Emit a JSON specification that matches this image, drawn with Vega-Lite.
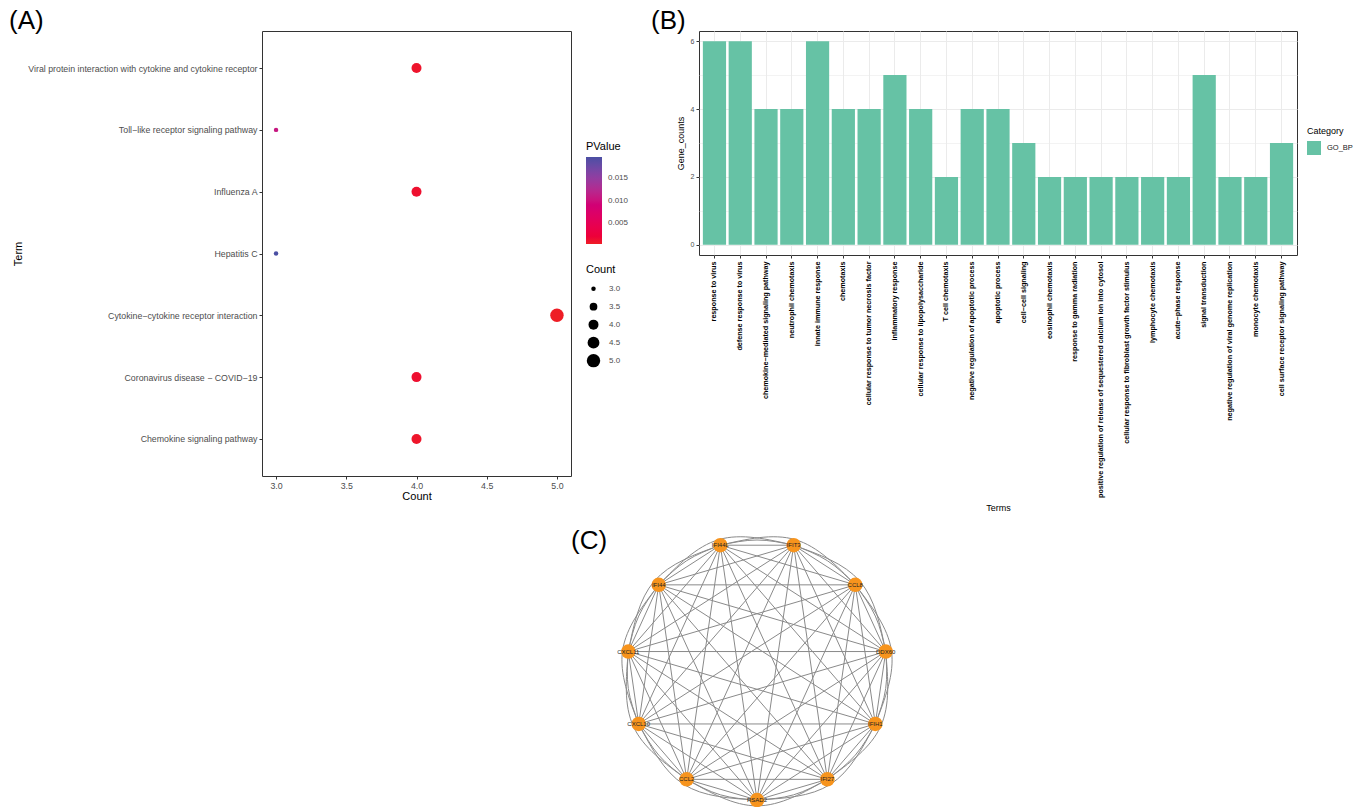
{
  "$schema": "https://vega.github.io/schema/vega-lite/v6.json",
  "autosize": {"type": "pad"},
  "padding": {"left": 8, "top": 7, "right": 0, "bottom": 0},
  "background": "white",
  "config": {
    "font": "Liberation Sans",
    "view": {"stroke": null},
    "axis": {"domain": false, "tickColor": "#333333", "tickSize": 3, "labelColor": "#4d4d4d", "titleColor": "black", "titleFontWeight": "normal", "grid": false},
    "legend": {"titleFontWeight": "normal", "titleColor": "black", "labelColor": "#4d4d4d"},
    "title": {"fontWeight": "normal", "color": "black", "fontSize": 26, "anchor": "start", "frame": "group", "baseline": "bottom"}
  },
  "datasets": {
    "kegg": [
      {"Term": "Viral protein interaction with cytokine and cytokine receptor", "Count": 4, "PValue": 0.0009},
      {"Term": "Toll−like receptor signaling pathway", "Count": 3, "PValue": 0.0106},
      {"Term": "Influenza A", "Count": 4, "PValue": 0.0011},
      {"Term": "Hepatitis C", "Count": 3, "PValue": 0.0197},
      {"Term": "Cytokine−cytokine receptor interaction", "Count": 5, "PValue": 0.0003},
      {"Term": "Coronavirus disease − COVID−19", "Count": 4, "PValue": 0.0012},
      {"Term": "Chemokine signaling pathway", "Count": 4, "PValue": 0.0008}
    ],
    "go": [
      {"Term": "response to virus", "Gene_counts": 6, "Category": "GO_BP"},
      {"Term": "defense response to virus", "Gene_counts": 6, "Category": "GO_BP"},
      {"Term": "chemokine−mediated signaling pathway", "Gene_counts": 4, "Category": "GO_BP"},
      {"Term": "neutrophil chemotaxis", "Gene_counts": 4, "Category": "GO_BP"},
      {"Term": "innate immune response", "Gene_counts": 6, "Category": "GO_BP"},
      {"Term": "chemotaxis", "Gene_counts": 4, "Category": "GO_BP"},
      {"Term": "cellular response to tumor necrosis factor", "Gene_counts": 4, "Category": "GO_BP"},
      {"Term": "inflammatory response", "Gene_counts": 5, "Category": "GO_BP"},
      {"Term": "cellular response to lipopolysaccharide", "Gene_counts": 4, "Category": "GO_BP"},
      {"Term": "T cell chemotaxis", "Gene_counts": 2, "Category": "GO_BP"},
      {"Term": "negative regulation of apoptotic process", "Gene_counts": 4, "Category": "GO_BP"},
      {"Term": "apoptotic process", "Gene_counts": 4, "Category": "GO_BP"},
      {"Term": "cell−cell signaling", "Gene_counts": 3, "Category": "GO_BP"},
      {"Term": "eosinophil chemotaxis", "Gene_counts": 2, "Category": "GO_BP"},
      {"Term": "response to gamma radiation", "Gene_counts": 2, "Category": "GO_BP"},
      {"Term": "positive regulation of release of sequestered calcium ion into cytosol", "Gene_counts": 2, "Category": "GO_BP"},
      {"Term": "cellular response to fibroblast growth factor stimulus", "Gene_counts": 2, "Category": "GO_BP"},
      {"Term": "lymphocyte chemotaxis", "Gene_counts": 2, "Category": "GO_BP"},
      {"Term": "acute−phase response", "Gene_counts": 2, "Category": "GO_BP"},
      {"Term": "signal transduction", "Gene_counts": 5, "Category": "GO_BP"},
      {"Term": "negative regulation of viral genome replication", "Gene_counts": 2, "Category": "GO_BP"},
      {"Term": "monocyte chemotaxis", "Gene_counts": 2, "Category": "GO_BP"},
      {"Term": "cell surface receptor signaling pathway", "Gene_counts": 3, "Category": "GO_BP"}
    ],
    "nodes": [
      {"gene": "RSAD2", "x": 0, "y": -1},
      {"gene": "IFI27", "x": 0.541, "y": -0.841},
      {"gene": "IFIH1", "x": 0.91, "y": -0.415},
      {"gene": "DDX60", "x": 0.99, "y": 0.142},
      {"gene": "CCL8", "x": 0.756, "y": 0.655},
      {"gene": "IFIT3", "x": 0.282, "y": 0.96},
      {"gene": "IFI44L", "x": -0.282, "y": 0.96},
      {"gene": "IFI44", "x": -0.756, "y": 0.655},
      {"gene": "CXCL11", "x": -0.99, "y": 0.142},
      {"gene": "CXCL10", "x": -0.91, "y": -0.415},
      {"gene": "CCL2", "x": -0.541, "y": -0.841}
    ],
    "edges": [
      {"s": "RSAD2", "t": "IFI27"}, {"s": "RSAD2", "t": "IFIH1"}, {"s": "RSAD2", "t": "DDX60"}, {"s": "RSAD2", "t": "CCL8"}, {"s": "RSAD2", "t": "IFIT3"},
      {"s": "RSAD2", "t": "IFI44L"}, {"s": "RSAD2", "t": "IFI44"}, {"s": "RSAD2", "t": "CXCL11"}, {"s": "RSAD2", "t": "CXCL10"}, {"s": "RSAD2", "t": "CCL2"},
      {"s": "IFI27", "t": "IFIH1"}, {"s": "IFI27", "t": "DDX60"}, {"s": "IFI27", "t": "CCL8"}, {"s": "IFI27", "t": "IFIT3"}, {"s": "IFI27", "t": "IFI44L"},
      {"s": "IFI27", "t": "IFI44"}, {"s": "IFI27", "t": "CXCL11"}, {"s": "IFI27", "t": "CXCL10"}, {"s": "IFI27", "t": "CCL2"},
      {"s": "IFIH1", "t": "DDX60"}, {"s": "IFIH1", "t": "CCL8"}, {"s": "IFIH1", "t": "IFIT3"}, {"s": "IFIH1", "t": "IFI44L"}, {"s": "IFIH1", "t": "IFI44"},
      {"s": "IFIH1", "t": "CXCL11"}, {"s": "IFIH1", "t": "CXCL10"}, {"s": "IFIH1", "t": "CCL2"},
      {"s": "DDX60", "t": "CCL8"}, {"s": "DDX60", "t": "IFIT3"}, {"s": "DDX60", "t": "IFI44L"}, {"s": "DDX60", "t": "IFI44"}, {"s": "DDX60", "t": "CXCL11"},
      {"s": "DDX60", "t": "CXCL10"}, {"s": "DDX60", "t": "CCL2"},
      {"s": "CCL8", "t": "IFIT3"}, {"s": "CCL8", "t": "IFI44L"}, {"s": "CCL8", "t": "IFI44"}, {"s": "CCL8", "t": "CXCL11"}, {"s": "CCL8", "t": "CXCL10"}, {"s": "CCL8", "t": "CCL2"},
      {"s": "IFIT3", "t": "IFI44L"}, {"s": "IFIT3", "t": "IFI44"}, {"s": "IFIT3", "t": "CXCL11"}, {"s": "IFIT3", "t": "CXCL10"}, {"s": "IFIT3", "t": "CCL2"},
      {"s": "IFI44L", "t": "IFI44"}, {"s": "IFI44L", "t": "CXCL11"}, {"s": "IFI44L", "t": "CXCL10"}, {"s": "IFI44L", "t": "CCL2"},
      {"s": "IFI44", "t": "CXCL11"}, {"s": "IFI44", "t": "CXCL10"}, {"s": "IFI44", "t": "CCL2"},
      {"s": "CXCL11", "t": "CXCL10"}, {"s": "CXCL11", "t": "CCL2"},
      {"s": "CXCL10", "t": "CCL2"}
    ],
    "curves": [
      {"e": "a0", "o": 0, "x": 0, "y": -1}, {"e": "a0", "o": 1, "x": 0.282, "y": -0.96}, {"e": "a0", "o": 2, "x": 0.541, "y": -0.841},
      {"e": "a1", "o": 0, "x": 0.541, "y": -0.841}, {"e": "a1", "o": 1, "x": 0.756, "y": -0.655}, {"e": "a1", "o": 2, "x": 0.91, "y": -0.415},
      {"e": "a2", "o": 0, "x": 0.91, "y": -0.415}, {"e": "a2", "o": 1, "x": 0.99, "y": -0.142}, {"e": "a2", "o": 2, "x": 0.99, "y": 0.142},
      {"e": "a3", "o": 0, "x": 0.99, "y": 0.142}, {"e": "a3", "o": 1, "x": 0.91, "y": 0.415}, {"e": "a3", "o": 2, "x": 0.756, "y": 0.655},
      {"e": "a4", "o": 0, "x": 0.756, "y": 0.655}, {"e": "a4", "o": 1, "x": 0.541, "y": 0.841}, {"e": "a4", "o": 2, "x": 0.282, "y": 0.96},
      {"e": "a5", "o": 0, "x": 0.282, "y": 0.96}, {"e": "a5", "o": 1, "x": 0, "y": 1}, {"e": "a5", "o": 2, "x": -0.282, "y": 0.96},
      {"e": "a6", "o": 0, "x": -0.282, "y": 0.96}, {"e": "a6", "o": 1, "x": -0.541, "y": 0.841}, {"e": "a6", "o": 2, "x": -0.756, "y": 0.655},
      {"e": "a7", "o": 0, "x": -0.756, "y": 0.655}, {"e": "a7", "o": 1, "x": -0.91, "y": 0.415}, {"e": "a7", "o": 2, "x": -0.99, "y": 0.142},
      {"e": "a8", "o": 0, "x": -0.99, "y": 0.142}, {"e": "a8", "o": 1, "x": -0.99, "y": -0.142}, {"e": "a8", "o": 2, "x": -0.91, "y": -0.415},
      {"e": "a9", "o": 0, "x": -0.91, "y": -0.415}, {"e": "a9", "o": 1, "x": -0.756, "y": -0.655}, {"e": "a9", "o": 2, "x": -0.541, "y": -0.841},
      {"e": "a10", "o": 0, "x": -0.541, "y": -0.841}, {"e": "a10", "o": 1, "x": -0.282, "y": -0.96}, {"e": "a10", "o": 2, "x": 0, "y": -1},
      {"e": "b0", "o": 0, "x": -0.541, "y": -0.841}, {"e": "b0", "o": 1, "x": 0, "y": -1.045}, {"e": "b0", "o": 2, "x": 0.541, "y": -0.841},
      {"e": "b1", "o": 0, "x": 0, "y": -1}, {"e": "b1", "o": 1, "x": 0.565, "y": -0.879}, {"e": "b1", "o": 2, "x": 0.91, "y": -0.415},
      {"e": "b2", "o": 0, "x": 0.541, "y": -0.841}, {"e": "b2", "o": 1, "x": 0.951, "y": -0.434}, {"e": "b2", "o": 2, "x": 0.99, "y": 0.142},
      {"e": "b3", "o": 0, "x": 0.91, "y": -0.415}, {"e": "b3", "o": 1, "x": 1.034, "y": 0.149}, {"e": "b3", "o": 2, "x": 0.756, "y": 0.655},
      {"e": "b4", "o": 0, "x": 0.99, "y": 0.142}, {"e": "b4", "o": 1, "x": 0.79, "y": 0.684}, {"e": "b4", "o": 2, "x": 0.282, "y": 0.96},
      {"e": "b5", "o": 0, "x": 0.756, "y": 0.655}, {"e": "b5", "o": 1, "x": 0.294, "y": 1.003}, {"e": "b5", "o": 2, "x": -0.282, "y": 0.96},
      {"e": "b6", "o": 0, "x": 0.282, "y": 0.96}, {"e": "b6", "o": 1, "x": -0.294, "y": 1.003}, {"e": "b6", "o": 2, "x": -0.756, "y": 0.655},
      {"e": "b7", "o": 0, "x": -0.282, "y": 0.96}, {"e": "b7", "o": 1, "x": -0.79, "y": 0.684}, {"e": "b7", "o": 2, "x": -0.99, "y": 0.142},
      {"e": "b8", "o": 0, "x": -0.756, "y": 0.655}, {"e": "b8", "o": 1, "x": -1.034, "y": 0.149}, {"e": "b8", "o": 2, "x": -0.91, "y": -0.415},
      {"e": "b9", "o": 0, "x": -0.99, "y": 0.142}, {"e": "b9", "o": 1, "x": -0.951, "y": -0.434}, {"e": "b9", "o": 2, "x": -0.541, "y": -0.841},
      {"e": "b10", "o": 0, "x": -0.91, "y": -0.415}, {"e": "b10", "o": 1, "x": -0.565, "y": -0.879}, {"e": "b10", "o": 2, "x": 0, "y": -1}
    ]
  },
  "bounds": "flush",
  "columns": 2,
  "spacing": {"row": 45, "column": 128},
  "concat": [
    {
      "width": 309,
      "height": 445,
      "title": {"text": "(A)", "dx": -253, "offset": -3},
      "view": {"stroke": "#333333", "strokeWidth": 1},
      "data": {"name": "kegg"},
      "mark": {"type": "circle", "opacity": 1},
      "encoding": {
        "x": {
          "field": "Count", "type": "quantitative",
          "scale": {"domain": [2.9, 5.1], "nice": false, "zero": false},
          "axis": {"values": [3, 3.5, 4, 4.5, 5], "format": ".1f", "title": "Count", "labelFontSize": 8.8, "labelPadding": 2, "titleFontSize": 11, "titlePadding": 1}
        },
        "y": {
          "field": "Term", "type": "nominal",
          "sort": ["Viral protein interaction with cytokine and cytokine receptor", "Toll−like receptor signaling pathway", "Influenza A", "Hepatitis C", "Cytokine−cytokine receptor interaction", "Coronavirus disease − COVID−19", "Chemokine signaling pathway"],
          "scale": {"type": "point", "padding": 0.6},
          "axis": {"title": "Term", "labelFontSize": 8.8, "labelPadding": 2, "labelLimit": 400, "titleFontSize": 11, "titleX": -239, "titleBaseline": "bottom"}
        },
        "color": {
          "field": "PValue", "type": "quantitative",
          "scale": {"domain": [0.0003, 0.0105, 0.0197], "range": ["#EE1D25", "#C7167F", "#4A4FA3"]},
          "legend": {"orient": "none", "legendX": 324, "legendY": 110, "title": "PValue", "titleFontSize": 11, "titlePadding": 5, "direction": "vertical", "gradientLength": 87, "gradientThickness": 16, "values": [0.005, 0.01, 0.015], "format": ".3f", "labelFontSize": 8, "labelOffset": 6}
        },
        "size": {
          "field": "Count", "type": "quantitative",
          "scale": {"domain": [3, 5], "range": [20, 180]},
          "legend": {"orient": "none", "legendX": 324, "legendY": 233, "title": "Count", "titleFontSize": 11, "titlePadding": 6, "values": [3, 3.5, 4, 4.5, 5], "format": ".1f", "symbolType": "circle", "labelFontSize": 8, "rowPadding": 2, "clipHeight": 15.3, "labelOffset": 8,
            "encode": {"symbols": {"update": {"fill": {"value": "black"}, "stroke": {"value": "transparent"}, "opacity": {"value": 1}}}}}
        }
      }
    },
    {
      "width": 598,
      "height": 224,
      "title": {"text": "(B)", "dx": -48, "offset": -3},
      "view": {"stroke": "#333333", "strokeWidth": 1},
      "data": {"name": "go"},
      "mark": {"type": "bar"},
      "encoding": {
        "x": {
          "field": "Term", "type": "nominal", "sort": null,
          "scale": {"paddingInner": 0.1, "paddingOuter": 0.15},
          "axis": {"title": "Terms", "labelAngle": -90, "labelFontSize": 7.2, "labelFontWeight": "bold", "labelColor": "black", "labelPadding": 3, "labelLimit": 0, "titleFontSize": 9, "titleY": 248, "titleBaseline": "top", "grid": true, "gridColor": "#EBEBEB", "bandPosition": 0.5, "labelOverlap": false}
        },
        "y": {
          "field": "Gene_counts", "type": "quantitative",
          "scale": {"domain": [-0.3, 6.3], "nice": false, "zero": false},
          "axis": {"title": "Gene_counts", "values": [0, 1, 2, 3, 4, 5, 6], "labelExpr": "datum.value % 2 === 1 ? '' : datum.label", "labelFontSize": 7, "labelPadding": 2, "titleFontSize": 9, "titlePadding": 5, "grid": true, "gridColor": "#EBEBEB",
            "gridWidth": {"condition": {"test": "datum.value % 2 === 1", "value": 0.6}, "value": 1},
            "tickOpacity": {"condition": {"test": "datum.value % 2 === 1", "value": 0}, "value": 1}}
        },
        "y2": {"datum": 0},
        "color": {
          "field": "Category", "type": "nominal",
          "scale": {"range": ["#66C2A5"]},
          "legend": {"orient": "none", "legendX": 608, "legendY": 96, "title": "Category", "titleFontSize": 9, "titlePadding": 5, "symbolType": "square", "symbolSize": 196, "symbolStrokeWidth": 0, "labelFontSize": 7.5, "labelColor": "#1a1a1a", "labelOffset": 6}
        }
      }
    },
    {
      "width": 309,
      "height": 287,
      "title": {"text": "(C)", "dx": 309, "offset": -33},
      "layer": [
        {
          "data": {"name": "edges"},
          "transform": [
            {"lookup": "s", "from": {"data": {"name": "nodes"}, "key": "gene", "fields": ["x", "y"]}, "as": ["x1", "y1"]},
            {"lookup": "t", "from": {"data": {"name": "nodes"}, "key": "gene", "fields": ["x", "y"]}, "as": ["x2", "y2"]}
          ],
          "mark": {"type": "rule", "color": "#8a8a8a", "strokeWidth": 1},
          "encoding": {
            "x": {"field": "x1", "type": "quantitative", "scale": {"domain": [-3.8077, -1.4308], "nice": false, "zero": false}, "axis": null},
            "y": {"field": "y1", "type": "quantitative", "scale": {"domain": [-1.0615, 1.1462], "nice": false, "zero": false}, "axis": null},
            "x2": {"field": "x2"},
            "y2": {"field": "y2"}
          }
        },
        {
          "data": {"name": "curves"},
          "mark": {"type": "line", "color": "#8a8a8a", "strokeWidth": 1, "interpolate": "natural"},
          "encoding": {
            "x": {"field": "x", "type": "quantitative", "scale": {"domain": [-3.8077, -1.4308], "nice": false, "zero": false}, "axis": null},
            "y": {"field": "y", "type": "quantitative", "scale": {"domain": [-1.0615, 1.1462], "nice": false, "zero": false}, "axis": null},
            "detail": {"field": "e", "type": "nominal"},
            "order": {"field": "o", "type": "quantitative"}
          }
        },
        {
          "data": {"name": "nodes"},
          "mark": {"type": "circle", "size": 210, "color": "#F7941D", "opacity": 1},
          "encoding": {
            "x": {"field": "x", "type": "quantitative", "scale": {"domain": [-3.8077, -1.4308], "nice": false, "zero": false}, "axis": null},
            "y": {"field": "y", "type": "quantitative", "scale": {"domain": [-1.0615, 1.1462], "nice": false, "zero": false}, "axis": null}
          }
        },
        {
          "data": {"name": "nodes"},
          "mark": {"type": "text", "fontSize": 6, "color": "#222222", "baseline": "middle", "align": "center"},
          "encoding": {
            "x": {"field": "x", "type": "quantitative", "scale": {"domain": [-3.8077, -1.4308], "nice": false, "zero": false}, "axis": null},
            "y": {"field": "y", "type": "quantitative", "scale": {"domain": [-1.0615, 1.1462], "nice": false, "zero": false}, "axis": null},
            "text": {"field": "gene", "type": "nominal"}
          }
        }
      ]
    }
  ]
}
